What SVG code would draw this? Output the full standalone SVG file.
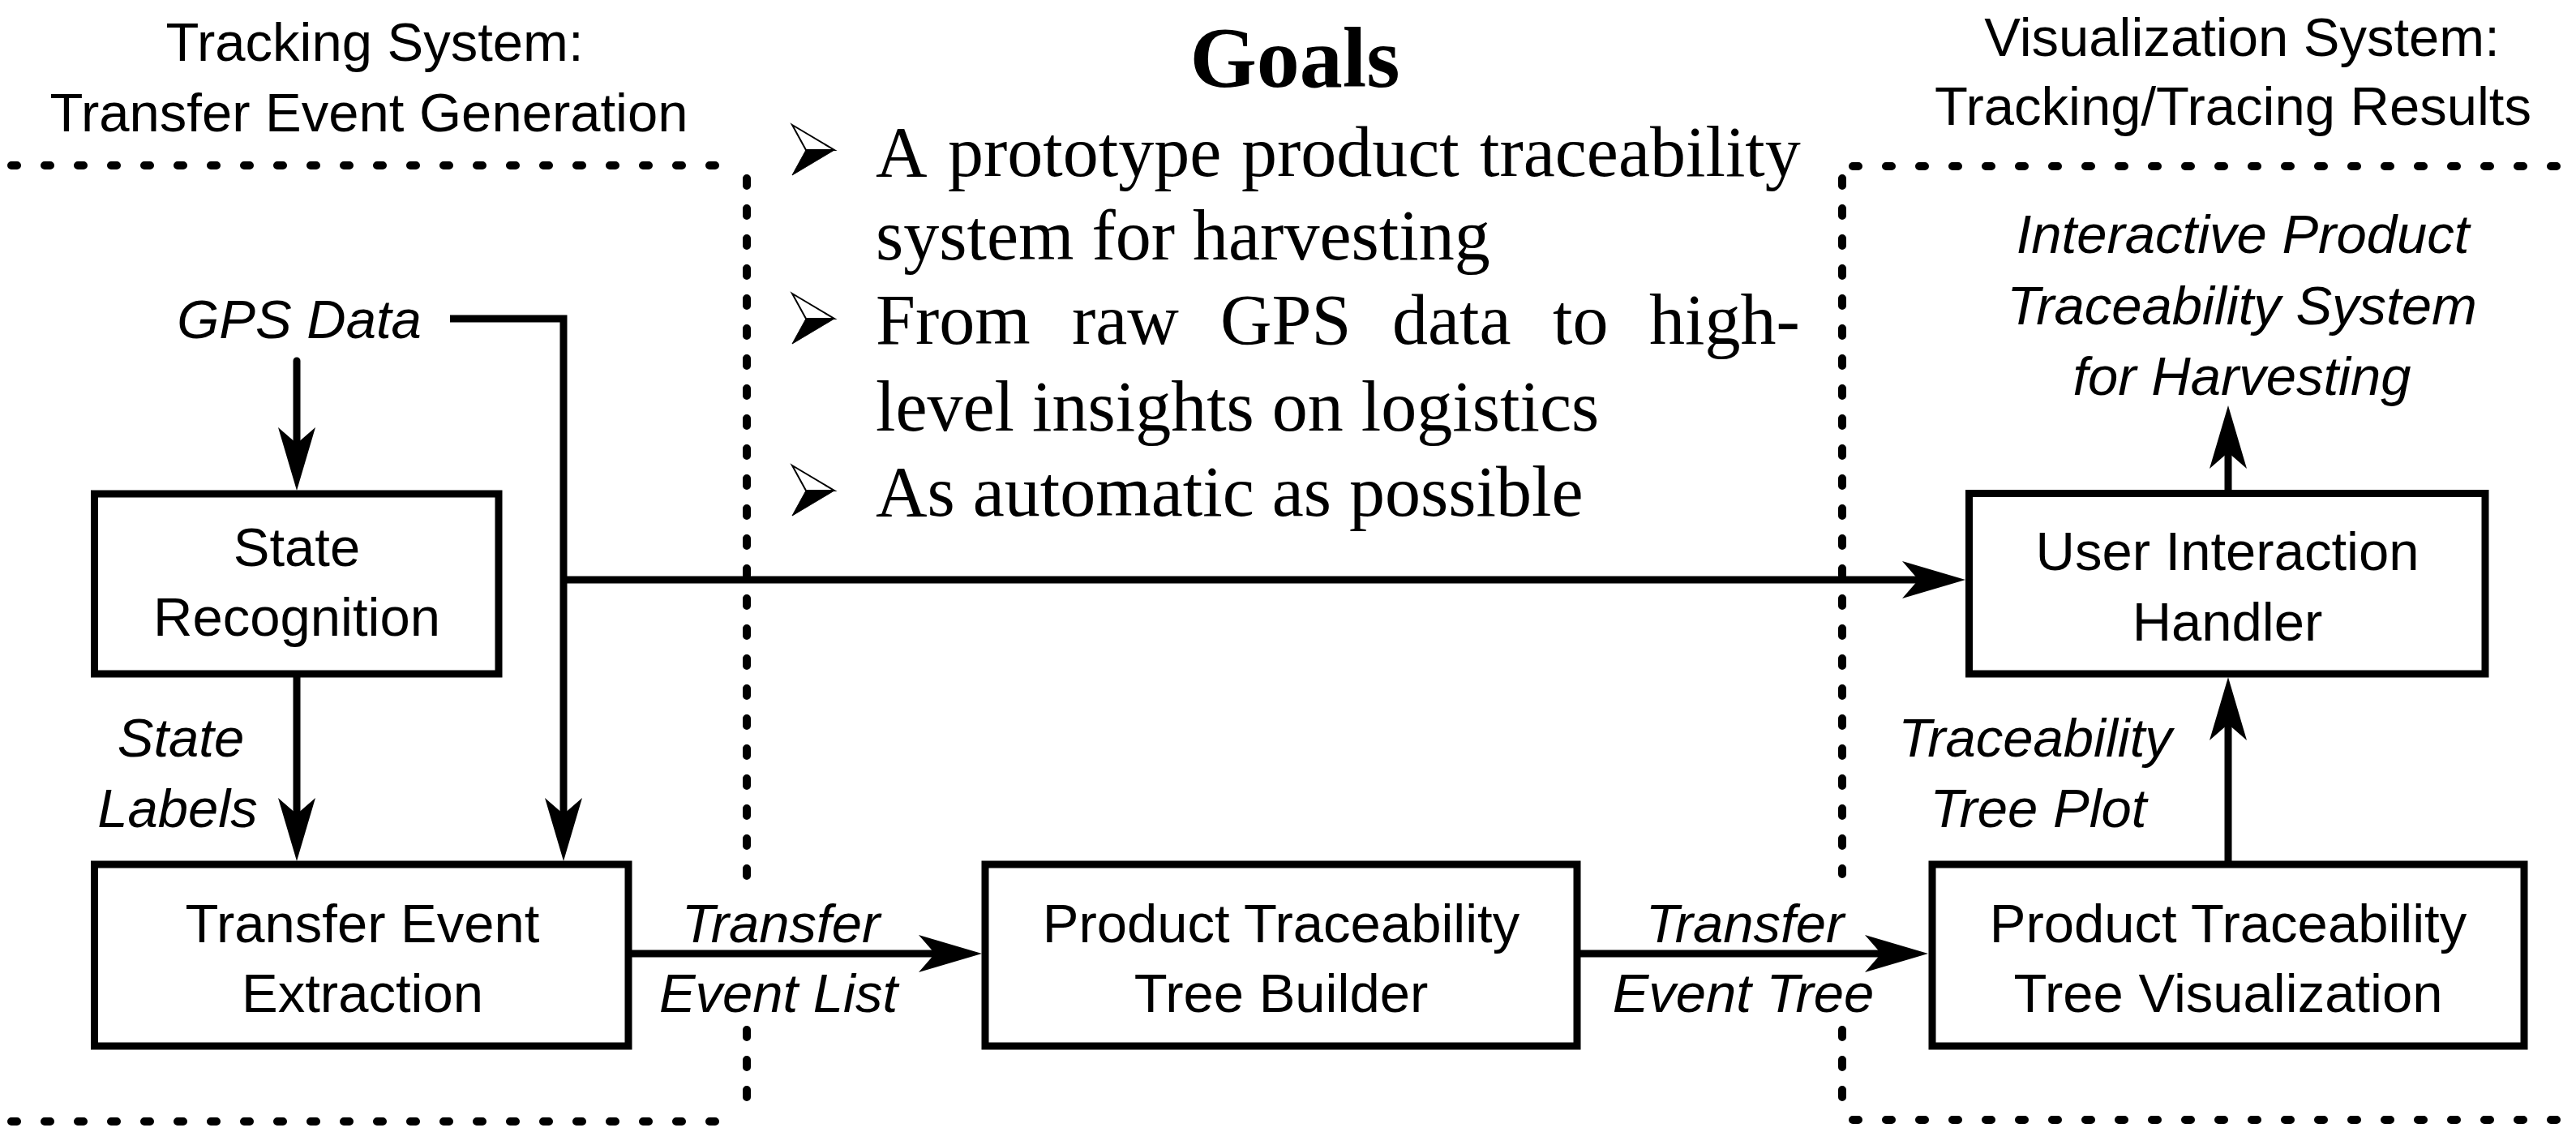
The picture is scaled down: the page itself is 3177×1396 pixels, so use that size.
<svg xmlns="http://www.w3.org/2000/svg" xmlns:xlink="http://www.w3.org/1999/xlink" width="3177" height="1396" viewBox="0 0 3177 1396">
<style>
  .bg { fill: #ffffff; }
  .box { fill: #ffffff; stroke: #000000; stroke-width: 9; }
  .sans { font-family: "Liberation Sans", Arial, sans-serif; font-size: 67px; fill: #000000; text-anchor: middle; }
  .ital { font-style: italic; }
  .serif { font-family: "Liberation Serif", "Times New Roman", serif; font-size: 88px; fill: #000000; }
  .goals { font-family: "Liberation Serif", "Times New Roman", serif; font-size: 106px; font-weight: bold; text-anchor: middle; fill: #000000; }
  .conn { fill: none; stroke: #000000; stroke-width: 9; stroke-linejoin: miter; }
  .hdots { fill: none; stroke: #000000; stroke-width: 10; stroke-linecap: round; stroke-dasharray: 7 34; }
  .vdots { fill: none; stroke: #000000; stroke-width: 10; stroke-linecap: round; stroke-dasharray: 9 28; }
</style>
<defs>
  <marker id="arr" markerUnits="userSpaceOnUse" markerWidth="80" markerHeight="50" refX="20" refY="0" orient="auto" overflow="visible">
    <path d="M78,0 L0,-23 L20,0 L0,23 Z" fill="#000000"/>
  </marker>
  <g id="bullet">
    <polygon points="0,-62 52,-31 17,-31" fill="#ffffff" stroke="#000000" stroke-width="2" stroke-linejoin="miter"/>
    <polygon points="17,-31 52,-31 0,0" fill="#000000" stroke="#000000" stroke-width="1"/>
  </g>
</defs>
<rect class="bg" x="0" y="0" width="3177" height="1396"/>

<g id="boundaries">
  <line class="hdots" x1="14" y1="204" x2="906" y2="204"/>
  <line class="vdots" x1="921" y1="220" x2="921" y2="1080"/>
  <line class="vdots" x1="921" y1="1270" x2="921" y2="1374"/>
  <line class="hdots" x1="14" y1="1383" x2="906" y2="1383"/>
  <line class="hdots" x1="2285" y1="205" x2="3177" y2="205"/>
  <line class="vdots" x1="2272" y1="220" x2="2272" y2="1078"/>
  <line class="vdots" x1="2272" y1="1270" x2="2272" y2="1372"/>
  <line class="hdots" x1="2285" y1="1381" x2="3177" y2="1381"/>
</g>

<g id="headers">
  <text class="sans" x="462" y="75">Tracking System:</text>
  <text class="sans" x="455" y="162">Transfer Event Generation</text>
  <text class="sans" x="2765" y="69">Visualization System:</text>
  <text class="sans" x="2754" y="154">Tracking/Tracing Results</text>
</g>

<g id="goals">
  <text class="goals" x="1597" y="107">Goals</text>
  <use xlink:href="#bullet" x="977" y="216"/>
  <use xlink:href="#bullet" x="977" y="424"/>
  <use xlink:href="#bullet" x="977" y="636"/>
  <text class="serif" y="217"><tspan x="1080">A</tspan><tspan x="1169">prototype</tspan><tspan x="1531">product</tspan><tspan x="1825">traceability</tspan></text>
  <text class="serif" x="1080" y="320">system for harvesting</text>
  <text class="serif" y="424"><tspan x="1080">From</tspan><tspan x="1322">raw</tspan><tspan x="1505">GPS</tspan><tspan x="1717">data</tspan><tspan x="1915">to</tspan><tspan x="2034">high-</tspan></text>
  <text class="serif" x="1080" y="531">level insights on logistics</text>
  <text class="serif" x="1080" y="636">As automatic as possible</text>
</g>

<g id="connectors">
  <path class="conn" d="M366,445 V547" stroke-linecap="round" marker-end="url(#arr)"/>
  <path class="conn" d="M555,393 H695 V1004" marker-end="url(#arr)"/>
  <path class="conn" d="M695,715 H2366" marker-end="url(#arr)"/>
  <path class="conn" d="M366,831 V1004" marker-end="url(#arr)"/>
  <path class="conn" d="M775,1176 H1153" marker-end="url(#arr)"/>
  <path class="conn" d="M1945,1176 H2320" marker-end="url(#arr)"/>
  <path class="conn" d="M2748,1066 V893" marker-end="url(#arr)"/>
  <path class="conn" d="M2748,609 V558" marker-end="url(#arr)"/>
</g>

<g id="labels">
  <text class="sans ital" x="369" y="417">GPS Data</text>
  <text class="sans ital" x="223" y="933">State</text>
  <text class="sans ital" x="219" y="1020">Labels</text>
  <text class="sans ital" x="963" y="1162">Transfer</text>
  <text class="sans ital" x="960" y="1248">Event List</text>
  <text class="sans ital" x="2152" y="1162">Transfer</text>
  <text class="sans ital" x="2150" y="1248">Event Tree</text>
  <text class="sans ital" x="2510" y="933">Traceability</text>
  <text class="sans ital" x="2514" y="1020">Tree Plot</text>
  <text class="sans ital" x="2766" y="312">Interactive Product</text>
  <text class="sans ital" x="2765" y="400">Traceability System</text>
  <text class="sans ital" x="2765" y="487">for Harvesting</text>
</g>

<g id="node-state-recognition">
  <rect class="box" x="116.5" y="609" width="498.5" height="222"/>
  <text class="sans" x="366" y="698">State</text>
  <text class="sans" x="366" y="784">Recognition</text>
</g>
<g id="node-transfer-event-extraction">
  <rect class="box" x="116.5" y="1066" width="658.5" height="224"/>
  <text class="sans" x="447" y="1162">Transfer Event</text>
  <text class="sans" x="447" y="1248">Extraction</text>
</g>
<g id="node-tree-builder">
  <rect class="box" x="1215" y="1066" width="730" height="224"/>
  <text class="sans" x="1580" y="1162">Product Traceability</text>
  <text class="sans" x="1580" y="1248">Tree Builder</text>
</g>
<g id="node-tree-visualization">
  <rect class="box" x="2383" y="1066" width="730" height="224"/>
  <text class="sans" x="2748" y="1162">Product Traceability</text>
  <text class="sans" x="2748" y="1248">Tree Visualization</text>
</g>
<g id="node-user-interaction">
  <rect class="box" x="2428.5" y="608.5" width="636.5" height="222.5"/>
  <text class="sans" x="2747" y="703">User Interaction</text>
  <text class="sans" x="2747" y="790">Handler</text>
</g>
</svg>
